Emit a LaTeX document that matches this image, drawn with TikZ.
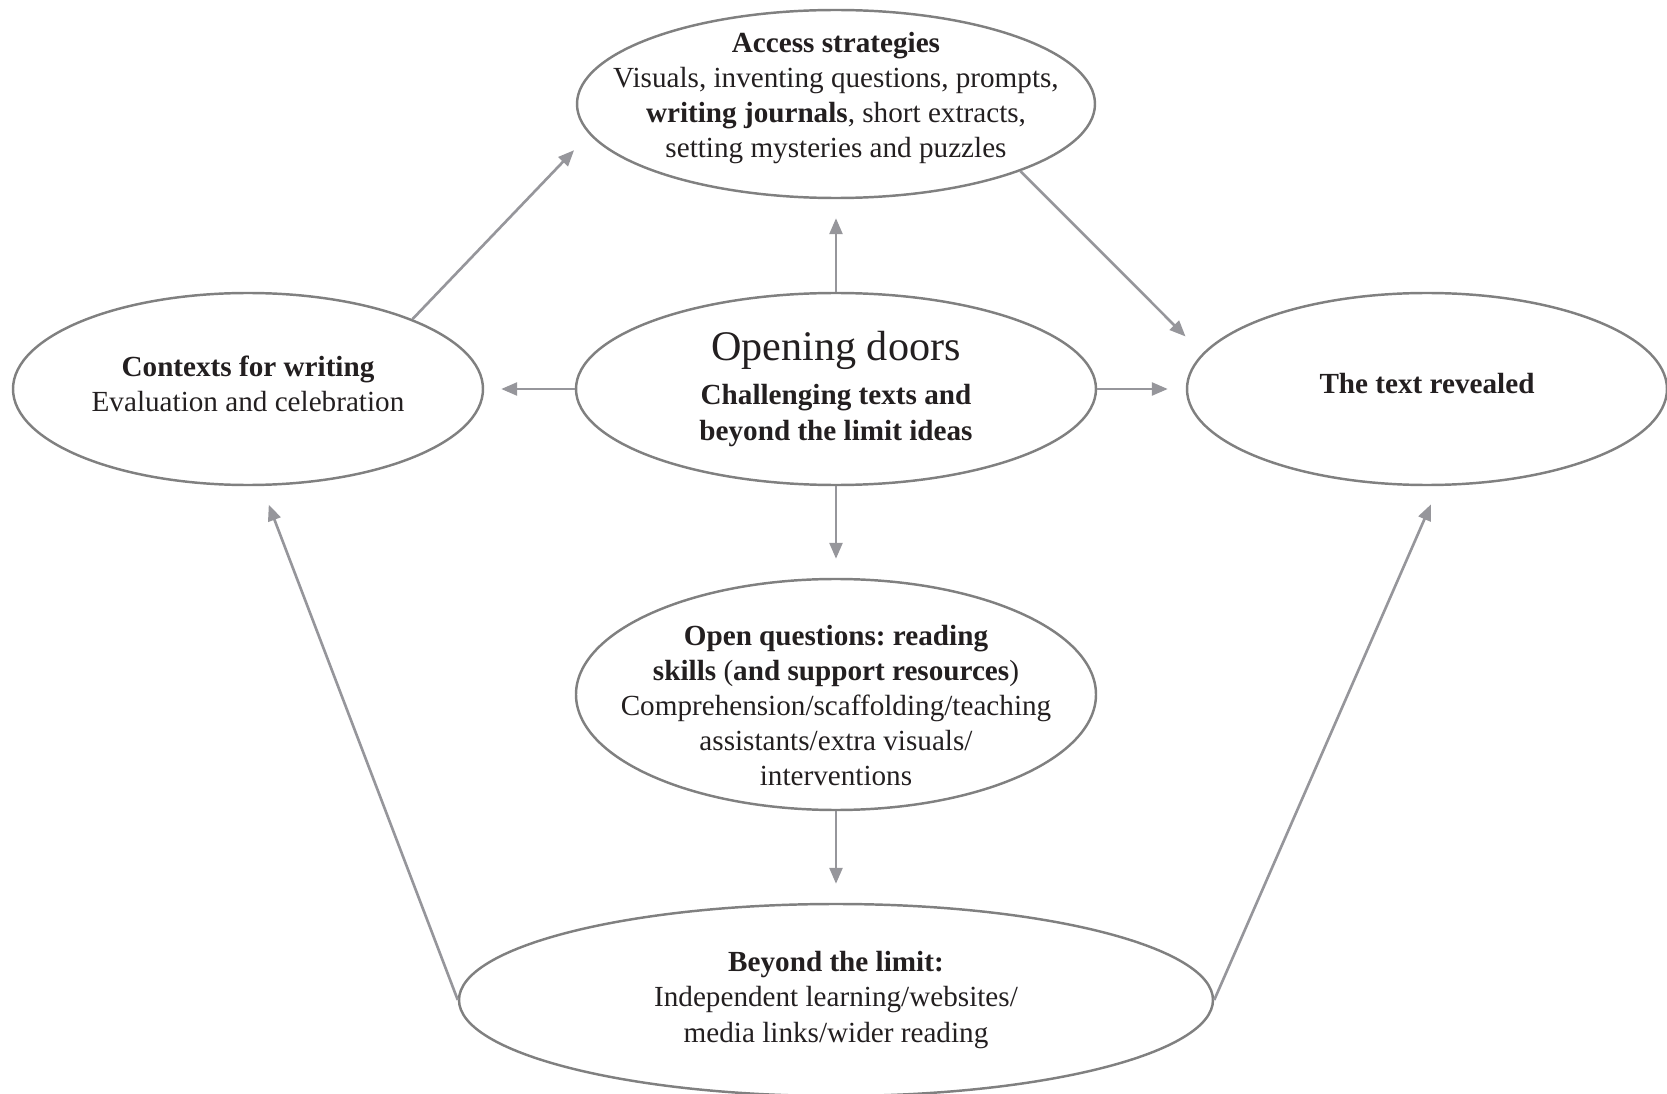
\documentclass[tikz,border=0pt]{standalone}
\usepackage{fontspec}
\setmainfont{Liberation Serif}
\frenchspacing
\usetikzlibrary{arrows.meta,shapes.geometric,positioning}
\definecolor{ringgray}{RGB}{128,128,128}
\definecolor{flowgray}{RGB}{150,150,155}
\definecolor{inkblack}{RGB}{35,31,32}

\begin{document}
\begin{tikzpicture}[
  ring/.style={draw=ringgray, line width=0.7pt, ellipse, inner sep=0pt},
  txt/.style={font=\fontsize{8.3}{10}\selectfont, text=inkblack, align=center, inner sep=0pt},
  flow/.style={-{Triangle[length=0.16cm,width=0.13cm]}, line width=0.75pt, flowgray}
]
  \useasboundingbox (0,0) rectangle (16.67,10.93);

  %--- rings ---
  \node[ring, minimum width=5.18cm, minimum height=1.88cm] (access) at (8.36,9.89) {};
  \node[ring, minimum width=5.20cm, minimum height=1.92cm] (doors) at (8.36,7.04) {};
  \node[ring, minimum width=4.70cm, minimum height=1.92cm] (contexts) at (2.48,7.04) {};
  \node[ring, minimum width=4.80cm, minimum height=1.92cm] (revealed) at (14.27,7.04) {};
  \node[ring, minimum width=5.20cm, minimum height=2.31cm] (questions) at (8.36,3.985) {};
  \node[ring, minimum width=7.54cm, minimum height=1.92cm] (beyond) at (8.36,0.93) {};

  %--- texts ---
  \node[txt] (access-txt) at ([yshift=0.06cm]access) {\textbf{Access strategies}\\Visuals, inventing questions, prompts,\\\textbf{writing journals}, short extracts,\\setting mysteries and puzzles};
  \node[txt] (doors-txt) at (doors) {{\fontsize{12}{14}\selectfont Opening doors}\\[2.5pt]\textbf{Challenging texts and}\\\textbf{beyond the limit ideas}};
  \node[txt] (contexts-txt) at ([yshift=0.05cm]contexts) {\textbf{Contexts for writing}\\Evaluation and celebration};
  \node[txt] (revealed-txt) at ([yshift=0.05cm]revealed) {\textbf{The text revealed}};
  \node[txt] (questions-txt) at ([yshift=-0.11cm]questions) {\textbf{Open questions: reading}\\\textbf{skills} (\textbf{and support resources})\\Comprehension/scaffolding/teaching\\assistants/extra visuals/\\interventions};
  \node[txt] (beyond-txt) at (beyond) {\textbf{Beyond the limit:}\\Independent learning/websites/\\media links/wider reading};

  %--- arrows ---
  \draw[flow, shorten >=0.19cm] (doors.north) -- (access.south);
  \draw[flow, shorten >=0.17cm] (doors.west) -- (contexts.east);
  \draw[flow, shorten >=0.18cm] (doors.east) -- (revealed.west);
  \draw[flow, shorten >=0.19cm] (doors.south) -- (questions.north);
  \draw[flow, shorten >=0.19cm] (questions.south) -- (beyond.north);
  \draw[flow, shorten >=0.22cm] (contexts.23) -- (access.187.5);
  \draw[flow, shorten >=0.24cm] (access.-20) -- (revealed.171);
  \draw[flow, shorten >=0.20cm] (beyond.west) -- (contexts.278);
  \draw[flow, shorten >=0.20cm] (beyond.east) -- (revealed.277);
\end{tikzpicture}
\end{document}
